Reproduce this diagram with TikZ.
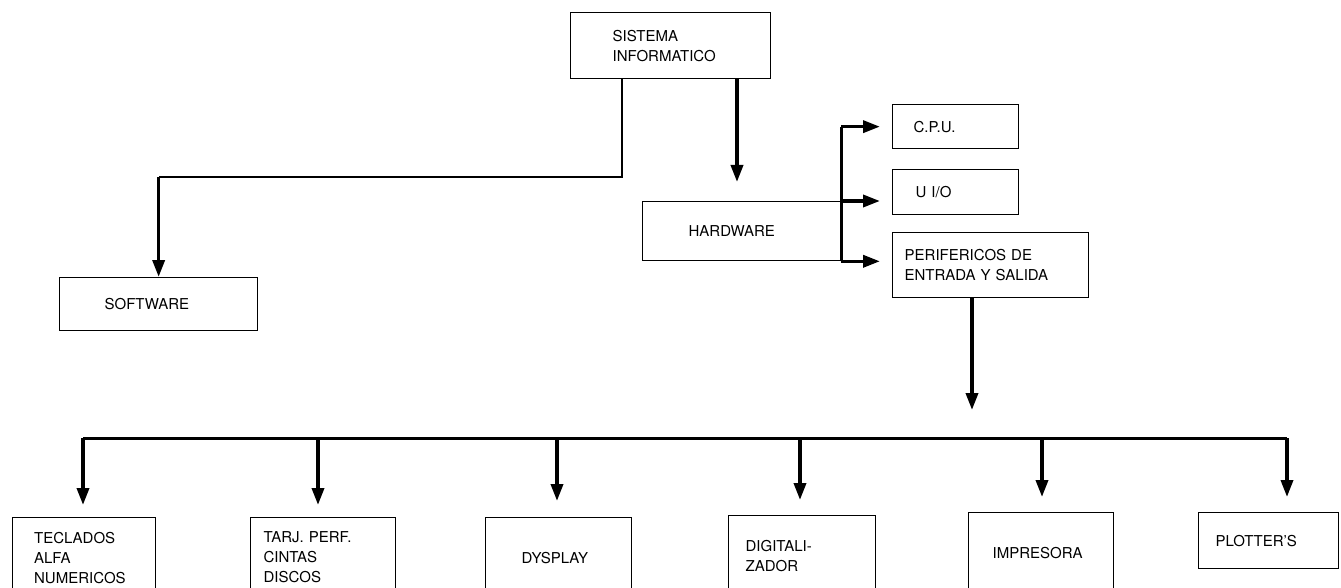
\documentclass[tikz,border=0pt]{standalone}
\usepackage{fontspec}
\setmainfont{TeX Gyre Heros}
\usetikzlibrary{arrows.meta,calc}
\begin{document}
\begin{tikzpicture}[x=1pt,y=-1pt,
  box/.style={draw, line width=1.3pt, anchor=north west, align=left, inner ysep=0pt, font=\fontsize{15}{20}\selectfont},
  conn/.style={line width=2.2pt},
  bus/.style={line width=3pt},
  arr/.style={line width=3.5pt, -{Triangle[length=17pt,width=12pt]}}]
\useasboundingbox (0,0) rectangle (1341,588);
\fill[white] (0,0) rectangle (1341,588);
\clip (0,0) rectangle (1341,588);
% top level
\node[box, text width=116pt, inner xsep=42pt, minimum height=66pt] (sis) at (570,12) {SISTEMA\\INFORMATICO};
\node[box, text width=106pt, inner xsep=46pt, minimum height=59pt] (hw) at (642,201) {HARDWARE};
\node[box, text width=108pt, inner xsep=45pt, minimum height=53pt] (sw) at (59,277) {SOFTWARE};
\node[box, text width=84pt, inner xsep=21pt, minimum height=44pt] (cpu) at (892,104) {C.P.U.};
\node[box, text width=80pt, inner xsep=23pt, minimum height=45pt] (uio) at (892,169) {U I/O};
\node[box, text width=172pt, inner xsep=12pt, minimum height=65pt] (per) at (892,232) {PERIFERICOS DE\\ENTRADA Y SALIDA};
% bottom level
\node[box, text width=100pt, inner xsep=21.5pt, minimum height=80pt] (tec) at (12,517) {TECLADOS\\ALFA\\NUMERICOS};
\node[box, text width=119pt, inner xsep=13pt, minimum height=80pt] (tar) at (250,517) {TARJ. PERF.\\CINTAS\\DISCOS};
\node[box, text width=74pt, inner xsep=36pt, minimum height=80pt] (dys) at (485,517) {DYSPLAY};
\node[box, text width=113pt, inner xsep=17pt, minimum height=80pt] (dig) at (728,515) {DIGITALI-\\ZADOR};
\node[box, text width=97pt, inner xsep=24pt, minimum height=80pt] (imp) at (968,512) {IMPRESORA};
\node[box, text width=106pt, inner xsep=17pt, minimum height=56pt] (plo) at (1198,512) {PLOTTER'S};
% sistema -> software
\coordinate (s1) at (622,177);
\coordinate (s2) at (s1 -| sw.north);
\draw[conn] (sis.south -| s1) -- (s1) -- (s2);
\draw[arr] (s2) -- (sw.north);
% sistema -> hardware
\coordinate (h1) at (737,150);
\draw[arr, shorten >=19pt] (sis.south -| h1) -- (hw.north -| h1);
% hardware bus
\coordinate (v1) at (hw.north east |- cpu.west);
\draw[bus] (hw.south east) -- (v1);
\draw[arr, shorten >=12pt] (v1) -- (cpu.west);
\draw[arr, shorten >=12pt] (hw.north east) -- (hw.north east -| uio.west);
\draw[arr, shorten >=12pt] (hw.south east) -- (hw.south east -| per.west);
% perifericos -> bus
\coordinate (p1) at (972,410);
\draw[arr] (per.south -| p1) -- (p1);
\coordinate (b1) at (83,438);
\coordinate (b2) at (318,438);
\coordinate (b3) at (557,438);
\coordinate (b4) at (800,438);
\coordinate (b5) at (1042,438);
\coordinate (b6) at (1287,438);
\draw[bus] (b1) -- (b6);
\draw[arr, shorten >=12pt] (b1) -- (b1 |- tec.north);
\draw[arr, shorten >=12pt] (b2) -- (b2 |- tar.north);
\draw[arr, shorten >=16pt] (b3) -- (b3 |- dys.north);
\draw[arr, shorten >=15pt] (b4) -- (b4 |- dig.north);
\draw[arr, shorten >=15pt] (b5) -- (b5 |- imp.north);
\draw[arr, shorten >=15pt] (b6) -- (b6 |- plo.north);
\end{tikzpicture}
\end{document}
